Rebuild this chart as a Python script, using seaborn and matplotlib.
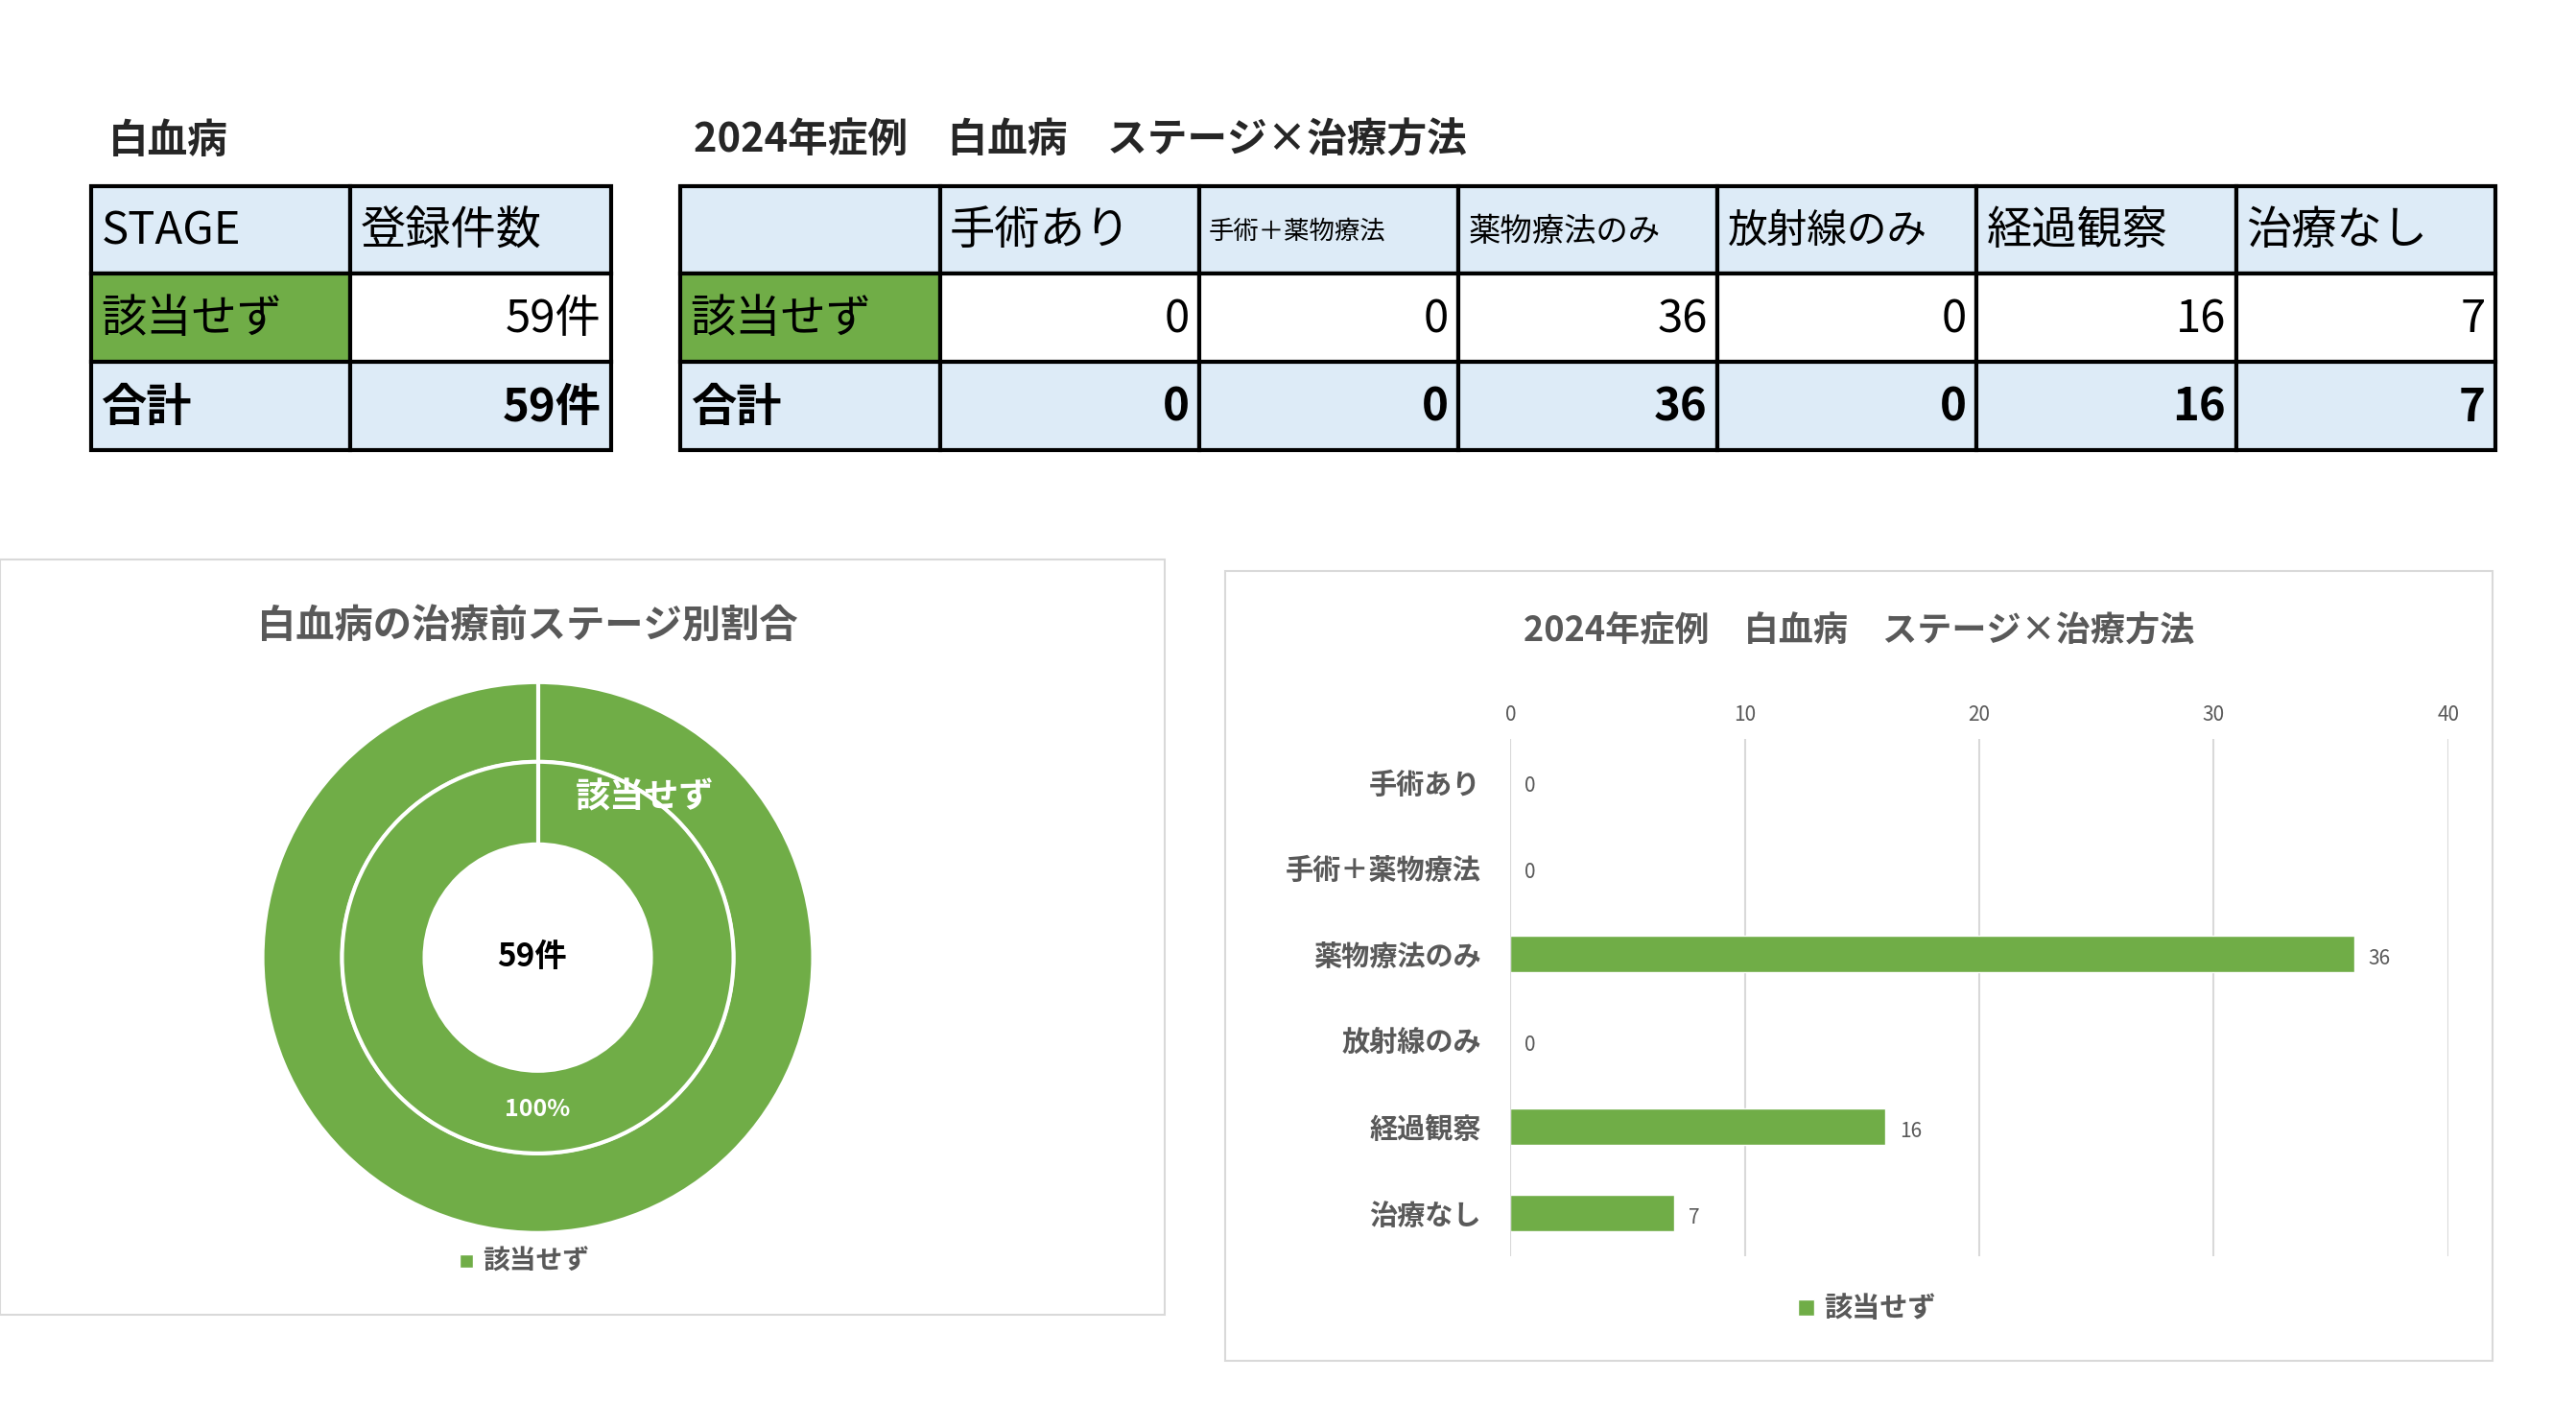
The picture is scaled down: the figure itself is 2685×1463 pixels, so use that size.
import matplotlib
matplotlib.use("Agg")
import matplotlib.pyplot as plt
import seaborn as sns
import pandas as pd
from matplotlib.patches import Rectangle

sns.set_theme(style="white")
plt.rcParams['font.family'] = ['Noto Sans CJK JP', 'DejaVu Sans']

stages = ["該当せず"]
stage_counts = [59]
treatments = ["手術あり", "手術＋薬物療法", "薬物療法のみ", "放射線のみ", "経過観察", "治療なし"]
treat_counts = [0, 0, 36, 0, 16, 7]
xticks = [0, 10, 20, 30, 40]

GREEN = "#70AD47"; BLUE = "#DDEBF7"; GRAY = "#595959"

fig = plt.figure(figsize=(26.85, 14.63), dpi=100)
ov = fig.add_axes([0, 0, 1, 1], zorder=0)
ov.set_xlim(0, 1552); ov.set_ylim(846, 0); ov.axis("off")

def cell(x0, y0, x1, y1, fc, txt, ha, fs, bold=False, color="black"):
    ov.add_patch(Rectangle((x0, y0), x1 - x0, y1 - y0, fc=fc, ec="black", lw=3))
    tx = x0 + 6 if ha == "left" else x1 - 6
    ov.text(tx, (y0 + y1) / 2 + 1, txt, ha=ha, va="center", fontsize=fs,
            fontweight="bold" if bold else "normal", color=color)

# left table
ov.text(65, 85, "白血病", fontsize=30, fontweight="bold", va="center")
rows_y = [112, 165, 218, 271]
cell(55, 112, 211, 165, BLUE, "STAGE", "left", 34)
cell(211, 112, 368, 165, BLUE, "登録件数", "left", 34)
cell(55, 165, 211, 218, GREEN, stages[0], "left", 34)
cell(211, 165, 368, 218, "white", f"{stage_counts[0]}件", "right", 34)
cell(55, 218, 211, 271, BLUE, "合計", "left", 34, True)
cell(211, 218, 368, 271, BLUE, f"{sum(stage_counts)}件", "right", 34, True)

# right table
ov.text(418, 85, "2024年症例　白血病　ステージ×治療方法", fontsize=30, fontweight="bold", va="center")
cols = [410 + i * 156.2 for i in range(8)]
cell(cols[0], 112, cols[1], 165, BLUE, "", "left", 34)
for i, t in enumerate(treatments):
    fs = 19 if len(t) > 6 else (26 if len(t) == 6 and t != "手術あり" else 34)
    if t in ("手術あり", "経過観察", "治療なし"): fs = 34
    if t in ("薬物療法のみ", "放射線のみ"): fs = 24 if t == "薬物療法のみ" else 30
    cell(cols[i + 1], 112, cols[i + 2], 165, BLUE, t, "left", fs)
cell(cols[0], 165, cols[1], 218, GREEN, stages[0], "left", 34)
cell(cols[0], 218, cols[1], 271, BLUE, "合計", "left", 34, True)
for i, v in enumerate(treat_counts):
    cell(cols[i + 1], 165, cols[i + 2], 218, "white", str(v), "right", 34)
    cell(cols[i + 1], 218, cols[i + 2], 271, BLUE, str(v), "right", 34, True)

# panel boxes
ov.add_patch(Rectangle((0, 337), 702, 455, fc="white", ec="#D9D9D9", lw=1.5))
ov.add_patch(Rectangle((738, 344), 764, 476, fc="white", ec="#D9D9D9", lw=1.5))
ov.text(318, 377, "白血病の治療前ステージ別割合", fontsize=29, fontweight="bold", color=GRAY, ha="center", va="center")
ov.text(1120, 380, "2024年症例　白血病　ステージ×治療方法", fontsize=26, fontweight="bold", color=GRAY, ha="center", va="center")
ov.add_patch(Rectangle((277, 756), 8, 8, fc=GREEN))
ov.text(291, 760, "該当せず", fontsize=20, color=GRAY, va="center", fontweight="bold")
ov.add_patch(Rectangle((1083, 783), 10, 10, fc=GREEN))
ov.text(1099, 788, "該当せず", fontsize=21, color=GRAY, va="center", fontweight="bold")

# donut
cx, cy, r = 324 * 2685 / 1552, 1463 - 577 * 1463 / 846, 287
half = 310
dax = fig.add_axes([(cx - half) / 2685, (cy - half) / 1463, 2 * half / 2685, 2 * half / 1463], zorder=2)
lim = half / r
dax.set_xlim(-lim, lim); dax.set_ylim(-lim, lim); dax.axis("off")
dax.pie(stage_counts, radius=1.0, colors=[GREEN], startangle=90, counterclock=False,
        wedgeprops=dict(width=0.29, edgecolor="white", linewidth=3))
dax.pie(stage_counts, radius=0.711, colors=[GREEN], startangle=90, counterclock=False,
        wedgeprops=dict(width=0.30, edgecolor="white", linewidth=3))
dax.plot([0, 0], [0.41, 1.0], color="white", lw=3)
dax.set_xlim(-lim, lim); dax.set_ylim(-lim, lim)
dax.text(0.39, 0.58, stages[0], color="white", fontsize=26, fontweight="bold", ha="center", va="center")
dax.text(0.0, -0.55, "100%", color="white", fontsize=18, fontweight="bold", ha="center", va="center")
dax.text(-0.02, 0.0, f"{stage_counts[0]}件", color="black", fontsize=24, fontweight="bold", ha="center", va="center")

# bar chart
bax = fig.add_axes([910 / 1552, 1 - 757 / 846, (1475 - 910) / 1552, (757 - 445) / 846], zorder=2)
df = pd.DataFrame({"治療方法": treatments, "件数": treat_counts})
sns.barplot(data=df, x="件数", y="治療方法", color=GREEN, saturation=1, width=0.42, ax=bax, zorder=3)
bax.set_xlim(0, 40); bax.set_ylim(5.5, -0.5)
bax.set_xticks(xticks)
bax.xaxis.tick_top()
bax.tick_params(axis="x", labelsize=15, labelcolor=GRAY, length=0, pad=10)
bax.tick_params(axis="y", labelsize=21, labelcolor=GRAY, length=0, pad=22)
for lbl in bax.get_yticklabels(): lbl.set_fontweight("bold")
bax.set_xlabel(""); bax.set_ylabel("")
bax.grid(axis="x", color="#D9D9D9", lw=1.5, zorder=0)
for s in bax.spines.values(): s.set_visible(False)
bax.axvline(0, color="#D9D9D9", lw=1.5, zorder=4)
bax.set_facecolor("none")
for i, v in enumerate(treat_counts):
    bax.text(v + 0.6, i + 0.05, str(v), fontsize=15, color=GRAY, va="center", ha="left")

fig.savefig("out.png", dpi=100, facecolor="white")
